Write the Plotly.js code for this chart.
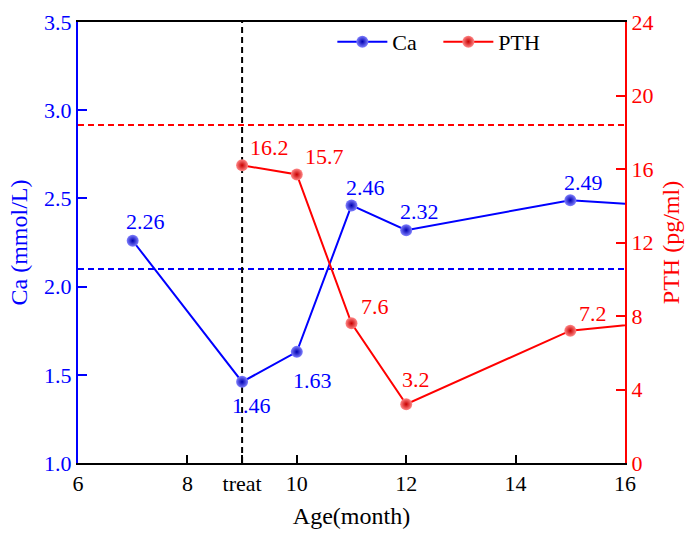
<!DOCTYPE html>
<html>
<head>
<meta charset="utf-8">
<script src="https://cdn.plot.ly/plotly-3.0.1.min.js"></script>
<style>html,body{margin:0;padding:0;background:#fff;}#chart{width:689px;height:535px;}</style>
</head>
<body>
<div id="chart"></div>
<script>
// ---- data ----
const ageMonths = [7, 9, 10, 11, 12, 15, 18];
const caValues  = [2.26, 1.46, 1.63, 2.46, 2.32, 2.49, 2.43];
const caLabels  = ['2.26', '1.46', '1.63', '2.46', '2.32', '2.49', ''];
const pthMonths = [9, 10, 11, 12, 15, 18];
const pthValues = [16.2, 15.7, 7.6, 3.2, 7.2, 8.1];
const pthLabels = ['16.2', '15.7', '7.6', '3.2', '7.2', ''];
const caRefLevel = 2.1;
const pthRefLevel = 18.4;
const treatMonth = 9;
const xTickVals = [6, 8, 9, 10, 12, 14, 16];
const xTickText = ['6', '8', 'treat', '10', '12', '14', '16'];

// ---- styling (label offsets in px) ----
const caOffsets  = [[13,19],[9,-24],[16,-29],[14,18],[13,19],[13,18],[0,0]];
const pthOffsets = [[27,18],[28,18],[23,17],[10,25],[23,17],[0,0]];
const FONT = "'Liberation Serif'";
const BLUE = '#0000ff';
const RED = '#ff0000';

const traces = [
  {
    x: ageMonths, y: caValues, name: 'Ca', type: 'scatter', mode: 'lines+markers',
    line: {color: BLUE, width: 2},
    marker: {size: 12, color: '#8080ff', gradient: {type: 'radial', color: '#0000b0'}},
    yaxis: 'y'
  },
  {
    x: pthMonths, y: pthValues, name: 'PTH', type: 'scatter', mode: 'lines+markers',
    line: {color: RED, width: 2},
    marker: {size: 12, color: '#ff8888', gradient: {type: 'radial', color: '#c80000'}},
    yaxis: 'y2'
  }
];

const annotations = [];
caLabels.forEach((t, i) => {
  if (!t) return;
  annotations.push({x: ageMonths[i], y: caValues[i], xref: 'x', yref: 'y', text: t, showarrow: false,
    xshift: caOffsets[i][0], yshift: caOffsets[i][1], font: {family: FONT, size: 22, color: BLUE}});
});
pthLabels.forEach((t, i) => {
  if (!t) return;
  annotations.push({x: pthMonths[i], y: pthValues[i], xref: 'x', yref: 'y2', text: t, showarrow: false,
    xshift: pthOffsets[i][0], yshift: pthOffsets[i][1], font: {family: FONT, size: 22, color: RED}});
});

const dash = '6px,4px';
const shapes = [
  {type: 'line', xref: 'paper', x0: 0, x1: 1, yref: 'y', y0: caRefLevel, y1: caRefLevel,
   line: {color: BLUE, width: 2, dash: dash}, layer: 'below'},
  {type: 'line', xref: 'paper', x0: 0, x1: 1, yref: 'y2', y0: pthRefLevel, y1: pthRefLevel,
   line: {color: RED, width: 2, dash: dash}, layer: 'below'},
  {type: 'line', xref: 'x', x0: treatMonth, x1: treatMonth, yref: 'paper', y0: 0, y1: 1,
   line: {color: '#000000', width: 2, dash: dash}, layer: 'below'}
];

const layout = {
  width: 689, height: 535,
  margin: {l: 78, r: 64, t: 22, b: 72, pad: 0},
  paper_bgcolor: '#ffffff', plot_bgcolor: '#ffffff',
  font: {family: FONT, size: 22, color: '#000'},
  showlegend: true,
  legend: {orientation: 'h', x: 0.465, y: 0.955, xanchor: 'left', yanchor: 'middle',
    itemwidth: 50, entrywidth: 41, entrywidthmode: 'pixels',
    bgcolor: 'rgba(0,0,0,0)', font: {family: FONT, size: 22, color: '#000'}},
  xaxis: {
    range: [6, 16], tickmode: 'array', tickvals: xTickVals, ticktext: xTickText,
    showline: true, linecolor: '#000', linewidth: 2, mirror: true,
    ticks: 'inside', ticklen: 8, tickwidth: 2, tickcolor: '#000',
    showgrid: false, zeroline: false,
    tickfont: {family: FONT, size: 22, color: '#000'},
    title: {text: 'Age(month)', font: {family: FONT, size: 24, color: '#000'}, standoff: 12}
  },
  yaxis: {
    range: [1, 3.5], dtick: 0.5, tick0: 1, tickformat: '.1f',
    showline: true, linecolor: BLUE, linewidth: 2,
    ticks: 'inside', ticklen: 9, tickwidth: 2, tickcolor: BLUE,
    showgrid: false, zeroline: false,
    tickfont: {family: FONT, size: 22, color: BLUE},
    title: {text: 'Ca (mmol/L)', font: {family: FONT, size: 24, color: BLUE}, standoff: 10}
  },
  yaxis2: {
    range: [0, 24], dtick: 4, tick0: 0, overlaying: 'y', side: 'right',
    showline: true, linecolor: RED, linewidth: 2,
    ticks: 'inside', ticklen: 9, tickwidth: 2, tickcolor: RED,
    showgrid: false, zeroline: false,
    tickfont: {family: FONT, size: 22, color: RED},
    title: {text: 'PTH (pg/ml)', font: {family: FONT, size: 24, color: RED}, standoff: 10}
  },
  annotations: annotations,
  shapes: shapes
};

Plotly.newPlot('chart', traces, layout, {displayModeBar: false, staticPlot: true});
</script>
</body>
</html>
